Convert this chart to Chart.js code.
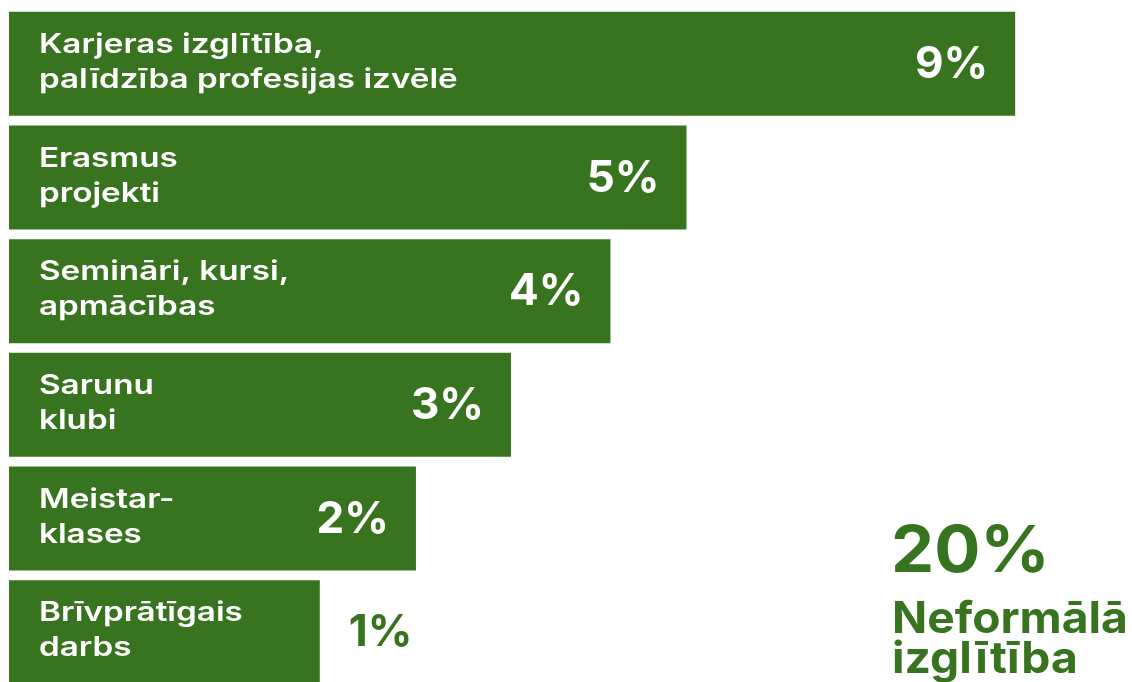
<!DOCTYPE html>
<html>
<head>
<meta charset="utf-8">
<script src="https://cdn.jsdelivr.net/npm/chart.js@4.4.1/dist/chart.umd.min.js"></script>
<style>
  html, body { margin: 0; padding: 0; background: #ffffff; overflow: hidden; }
  #wrap { position: relative; width: 1132px; height: 692px; }
</style>
</head>
<body>
<div id="wrap"><canvas id="c" width="1132" height="692"></canvas></div>
<script>
// Categories (each label split into lines as in the reference)
const categories = [
  ["Karjeras izglītība,", "palīdzība profesijas izvēlē"],
  ["Erasmus", "projekti"],
  ["Semināri, kursi,", "apmācības"],
  ["Sarunu", "klubi"],
  ["Meistar-", "klases"],
  ["Brīvprātīgais", "darbs"]
];
// Shown percentages
const percentLabels = ["9%", "5%", "4%", "3%", "2%", "1%"];
// Bar extents as drawn in the picture (estimated, same unit as the 9% bar)
const barExtents = [9.0, 6.06, 5.38, 4.49, 3.64, 2.78];
// Total annotation
const totalValue = "20%";
const totalLabel = ["Neformālā", "izglītība"];

const GREEN = "#38741f";
const FONT = "Inter, 'Open Sans', sans-serif";

function wideText(ctx, text, x, y, sx) {
  ctx.save();
  ctx.translate(x, y);
  ctx.scale(sx, 1);
  ctx.fillText(text, 0, 0);
  ctx.restore();
}

const labelPlugin = {
  id: "barLabels",
  afterDatasetsDraw(chart) {
    const ctx = chart.ctx;
    const meta = chart.getDatasetMeta(0);
    ctx.save();
    meta.data.forEach((bar, i) => {
      const left = bar.base;
      const right = bar.x;
      const cy = bar.y;
      // category label
      ctx.fillStyle = "#ffffff";
      ctx.font = "600 27px " + FONT;
      ctx.textAlign = "left";
      ctx.textBaseline = "alphabetic";
      const lines = categories[i];
      wideText(ctx, lines[0], left + 30, cy - 11, 1.23);
      wideText(ctx, lines[1], left + 30, cy + 24, 1.23);
      // percentage
      ctx.font = "700 44px " + FONT;
      ctx.textBaseline = "middle";
      const inside = (right - left) > 360;
      if (inside) {
        ctx.fillStyle = "#ffffff";
        ctx.textAlign = "right";
        ctx.fillText(percentLabels[i], right - 27, cy + 1);
      } else {
        ctx.fillStyle = GREEN;
        ctx.textAlign = "left";
        ctx.fillText(percentLabels[i], right + 29, cy + 1);
      }
    });
    // total annotation
    ctx.fillStyle = GREEN;
    ctx.textAlign = "left";
    ctx.textBaseline = "alphabetic";
    ctx.font = "700 64px " + FONT;
    wideText(ctx, totalValue, 891, 572, 1.07);
    ctx.font = "700 44px " + FONT;
    wideText(ctx, totalLabel[0], 892, 633, 1.05);
    wideText(ctx, totalLabel[1], 892, 673, 1.05);
    ctx.restore();
  }
};

new Chart(document.getElementById("c"), {
  type: "bar",
  data: {
    labels: categories.map(l => l.join(" ")),
    datasets: [{
      data: barExtents,
      backgroundColor: GREEN,
      borderWidth: 0,
      borderSkipped: false,
      categoryPercentage: 1.0,
      barPercentage: 0.915
    }]
  },
  options: {
    indexAxis: "y",
    responsive: false,
    animation: false,
    events: [],
    layout: { padding: { left: 9, right: 0, top: 7, bottom: 3 } },
    plugins: { legend: { display: false }, tooltip: { enabled: false } },
    scales: {
      x: { display: false, min: 0, max: 10.045 },
      y: { display: false }
    }
  },
  plugins: [labelPlugin]
});
</script>
</body>
</html>
